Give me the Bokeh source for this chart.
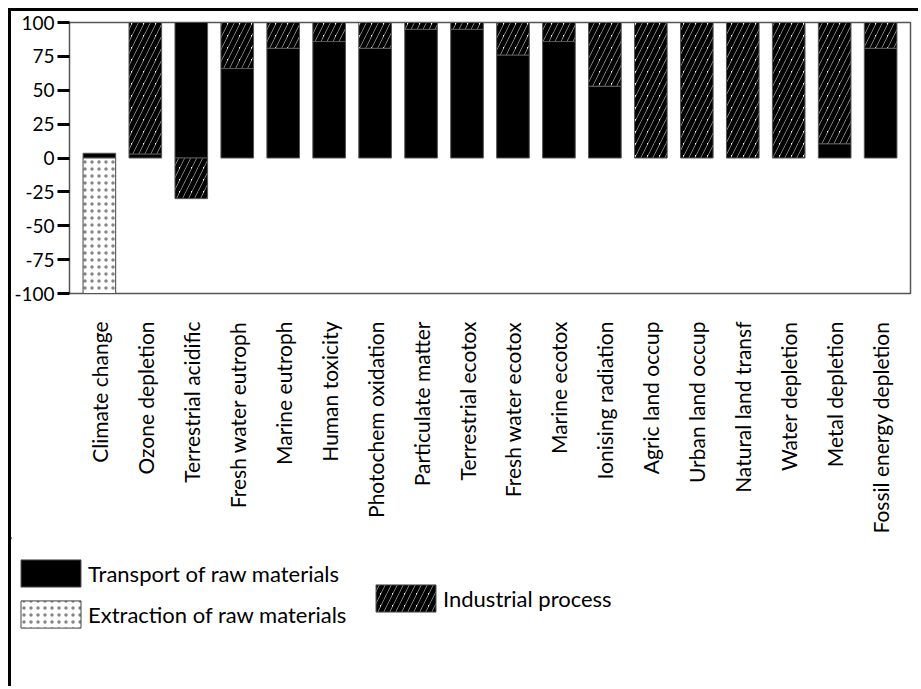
import math
from bokeh.plotting import figure
from bokeh.models import (ColumnDataSource, FactorRange, Legend, LegendItem, FixedTicker,
                          Range1d, PrintfTickFormatter)
from bokeh.embed import file_html
from bokeh.resources import INLINE

categories = ["Climate change", "Ozone depletion", "Terrestrial acidific", "Fresh water eutroph",
              "Marine eutroph", "Human toxicity", "Photochem oxidation", "Particulate matter",
              "Terrestrial ecotox", "Fresh water ecotox", "Marine ecotox", "Ionising radiation",
              "Agric land occup", "Urban land occup", "Natural land transf", "Water depletion",
              "Metal depletion", "Fossil energy depletion"]
transport = [3.5, 3, 100, 66, 81, 86, 81, 95, 95, 76, 86, 53, 0, 0, 0, 0, 10.5, 81]
industrial = [0, 97, -30, 34, 19, 14, 19, 5, 6, 24, 14, 47, 100, 100, 100, 100, 89.5, 19]
extraction = [-100, 0, 0, 0, 0, 0, 0, 0, 0, 0, 0, 0, 0, 0, 0, 0, 0, 0]
y_ticks = [-100, -75, -50, -25, 0, 25, 50, 75, 100]
series_labels = ["Transport of raw materials", "Industrial process", "Extraction of raw materials"]

FONT = "Lato"

T_STYLE = dict(fill_color="black", line_color="#555555", line_width=1)
I_STYLE = dict(fill_color="white", line_color="#555555", line_width=1,
               hatch_pattern="/", hatch_color="black", hatch_scale=12, hatch_weight=5)
E_STYLE = dict(fill_color="white", line_color="#444444", line_width=1,
               hatch_pattern=".", hatch_color="#333333", hatch_scale=7, hatch_weight=1,
               hatch_alpha=0.6)

p = figure(x_range=FactorRange(factors=categories, range_padding=0.15,
                               range_padding_units="absolute"),
           y_range=Range1d(-100, 100),
           width=910, height=539, output_backend="svg", toolbar_location=None,
           min_border_left=57, min_border_right=11, min_border_top=11, min_border_bottom=257,
           styles={"margin-left": "8px", "margin-top": "8px",
                   "border-top": "3px solid black", "border-left": "3px solid black"})

# stacking
n = len(categories)
pos_base = [0.0] * n
neg_base = [0.0] * n
sources = []
for series in (transport, industrial, extraction):
    xs, bots, tops = [], [], []
    for i, v in enumerate(series):
        if v == 0:
            continue
        if v > 0:
            b, t = pos_base[i], pos_base[i] + v
            pos_base[i] = t
        else:
            t, b = neg_base[i], neg_base[i] + v
            neg_base[i] = b
        xs.append(categories[i]); bots.append(b); tops.append(t)
    sources.append(ColumnDataSource(dict(x=xs, bottom=bots, top=tops)))

W = 0.71
p.vbar(x="x", bottom="bottom", top="top", width=W, source=sources[0], **T_STYLE)
p.vbar(x="x", bottom="bottom", top="top", width=W, source=sources[1], **I_STYLE)
p.vbar(x="x", bottom="bottom", top="top", width=W, source=sources[2], **E_STYLE)

p.xgrid.visible = False
p.ygrid.visible = False
p.outline_line_color = "#555555"
p.outline_line_width = 1.5

p.yaxis.ticker = FixedTicker(ticks=y_ticks)
p.yaxis.formatter = PrintfTickFormatter(format="%d")
p.yaxis.axis_line_color = "#555555"
p.yaxis.major_tick_line_color = "black"
p.yaxis.major_tick_line_width = 3
p.yaxis.major_tick_out = 12
p.yaxis.major_tick_in = 0
p.yaxis.minor_tick_line_color = None
p.yaxis.major_label_standoff = 3
p.yaxis.major_label_text_font = FONT
p.yaxis.major_label_text_font_size = "19px"
p.yaxis.major_label_text_color = "black"

p.xaxis.axis_line_color = "#555555"
p.xaxis.major_tick_line_color = None
p.xaxis.major_tick_out = 0
p.xaxis.major_tick_in = 0
p.xaxis.major_label_orientation = math.pi / 2
p.xaxis.major_label_standoff = 28
p.xaxis.major_label_text_font = FONT
p.xaxis.major_label_text_font_size = "21px"
p.xaxis.major_label_text_color = "black"

# legend panel below the chart (separate root, frame fills the whole canvas)
p2 = figure(width=910, height=149, x_range=Range1d(0, 910), y_range=Range1d(149, 0),
            x_axis_location=None, y_axis_location=None,
            output_backend="svg", toolbar_location=None,
            min_border_left=0, min_border_right=0, min_border_top=0, min_border_bottom=0,
            styles={"margin-left": "8px", "margin-top": "-10px",
                    "border-left": "3px solid black"})
p2.grid.visible = False
p2.outline_line_color = None
off = lambda: ColumnDataSource(dict(x=[-500], bottom=[0], top=[1]))  # off-canvas swatch source
l_t = p2.vbar(x="x", bottom="bottom", top="top", width=1, source=off(), **T_STYLE)
l_i = p2.vbar(x="x", bottom="bottom", top="top", width=1, source=off(), **I_STYLE)
l_e = p2.vbar(x="x", bottom="bottom", top="top", width=1, source=off(), **E_STYLE)

common = dict(orientation="vertical", glyph_width=75, glyph_height=34, spacing=7,
              padding=0, margin=0, label_standoff=0, border_line_color=None,
              background_fill_alpha=0, label_text_font=FONT, label_text_font_size="22px",
              label_text_color="black", label_height=34)
leg1 = Legend(items=[LegendItem(label=series_labels[0], renderers=[l_t]),
                     LegendItem(label=series_labels[2], renderers=[l_e])],
              location=(2, 55), **common)
leg2 = Legend(items=[LegendItem(label=series_labels[1], renderers=[l_i])],
              location=(357, 71), **common)
p2.add_layout(leg1)
p2.add_layout(leg2)

open("out.html", "w").write(file_html([p, p2], INLINE))
